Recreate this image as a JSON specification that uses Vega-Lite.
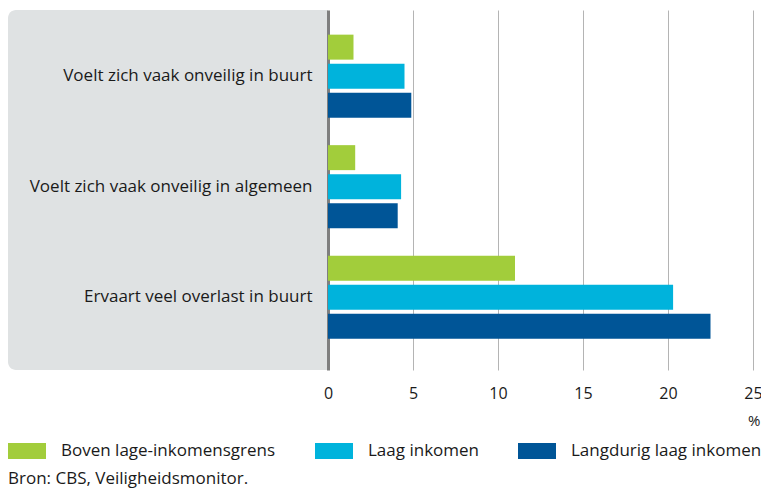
{
  "$schema": "https://vega.github.io/schema/vega-lite/v6.json",
  "padding": {"left": 8, "top": 10, "right": 10, "bottom": 6},
  "background": "#ffffff",
  "bounds": "flush",
  "config": {
    "view": {"stroke": null},
    "font": "Open Sans",
    "text": {"font": "Open Sans"},
    "axis": {"labelFont": "Open Sans", "titleFont": "Open Sans", "labelColor": "#1a1a1a", "titleColor": "#1a1a1a"},
    "legend": {"labelFont": "Open Sans"}
  },
  "datasets": {
    "bars": [
      {"categorie": "Voelt zich vaak onveilig in buurt", "groep": "Boven lage-inkomensgrens", "waarde": 1.5},
      {"categorie": "Voelt zich vaak onveilig in buurt", "groep": "Laag inkomen", "waarde": 4.5},
      {"categorie": "Voelt zich vaak onveilig in buurt", "groep": "Langdurig laag inkomen", "waarde": 4.9},
      {"categorie": "Voelt zich vaak onveilig in algemeen", "groep": "Boven lage-inkomensgrens", "waarde": 1.6},
      {"categorie": "Voelt zich vaak onveilig in algemeen", "groep": "Laag inkomen", "waarde": 4.3},
      {"categorie": "Voelt zich vaak onveilig in algemeen", "groep": "Langdurig laag inkomen", "waarde": 4.1},
      {"categorie": "Ervaart veel overlast in buurt", "groep": "Boven lage-inkomensgrens", "waarde": 11.0},
      {"categorie": "Ervaart veel overlast in buurt", "groep": "Laag inkomen", "waarde": 20.3},
      {"categorie": "Ervaart veel overlast in buurt", "groep": "Langdurig laag inkomen", "waarde": 22.5}
    ]
  },
  "data": {"name": "bars"},
  "title": {
    "text": "Bron: CBS, Veiligheidsmonitor.",
    "orient": "bottom",
    "anchor": "start",
    "frame": "group",
    "font": "Open Sans",
    "fontSize": 17,
    "fontWeight": "normal",
    "color": "#1a1a1a",
    "offset": 12
  },
  "spacing": 0,
  "hconcat": [
    {
      "width": 320,
      "height": 360,
      "layer": [
        {
          "transform": [{"aggregate": [{"op": "count", "as": "n"}]}],
          "mark": {"type": "rect", "fill": "#dfe2e3", "cornerRadiusTopLeft": 8, "cornerRadiusBottomLeft": 8},
          "encoding": {}
        },
        {
          "mark": {"type": "bar", "opacity": 0},
          "encoding": {
            "y": {
              "field": "categorie",
              "type": "nominal",
              "sort": ["Voelt zich vaak onveilig in buurt", "Voelt zich vaak onveilig in algemeen", "Ervaart veel overlast in buurt"],
              "scale": {"type": "band", "paddingInner": 0.249, "paddingOuter": 0.2535, "align": 0.44},
              "axis": {
                "orient": "right",
                "zindex": 1,
                "title": null,
                "domain": false,
                "ticks": false,
                "tickSize": 0,
                "grid": false,
                "labelAlign": "right",
                "labelBaseline": "middle",
                "labelPadding": -16,
                "labelFontSize": 17,
                "labelLimit": 320,
                "labelColor": "#1a1a1a"
              }
            }
          }
        }
      ]
    },
    {
      "width": 425,
      "height": 360,
      "mark": {"type": "bar"},
      "encoding": {
        "y": {
          "field": "categorie",
          "type": "nominal",
          "sort": ["Voelt zich vaak onveilig in buurt", "Voelt zich vaak onveilig in algemeen", "Ervaart veel overlast in buurt"],
          "scale": {"type": "band", "paddingInner": 0.249, "paddingOuter": 0.2535, "align": 0.44},
          "axis": null
        },
        "yOffset": {
          "field": "groep",
          "type": "nominal",
          "sort": ["Boven lage-inkomensgrens", "Laag inkomen", "Langdurig laag inkomen"],
          "scale": {"paddingInner": 0.138, "paddingOuter": 0}
        },
        "x": {
          "field": "waarde",
          "type": "quantitative",
          "scale": {"domain": [0, 25], "nice": false},
          "axis": {
            "values": [0, 5, 10, 15, 20, 25],
            "title": "%",
            "titleX": 432,
            "titleAlign": "right",
            "titleFontWeight": "normal",
            "titleFontSize": 15,
            "titlePadding": 12,
            "domain": false,
            "ticks": false,
            "grid": true,
            "gridColor": {"condition": {"test": "datum.value === 0", "value": "#7f7f7f"}, "value": "#b4b4b4"},
            "gridWidth": {"condition": {"test": "datum.value === 0", "value": 3}, "value": 1},
            "gridOpacity": 1,
            "labelFlush": false,
            "labelFontSize": 16,
            "labelPadding": 15,
            "labelColor": "#1a1a1a"
          }
        },
        "color": {
          "field": "groep",
          "type": "nominal",
          "sort": ["Boven lage-inkomensgrens", "Laag inkomen", "Langdurig laag inkomen"],
          "scale": {
            "domain": ["Boven lage-inkomensgrens", "Laag inkomen", "Langdurig laag inkomen"],
            "range": ["#a2cd3b", "#00b3dc", "#005597"]
          },
          "legend": {
            "orient": "none",
            "legendX": 0,
            "legendY": 422,
            "direction": "horizontal",
            "title": null,
            "symbolType": "M-1,-0.42H1V0.42H-1Z",
            "symbolSize": 1444,
            "symbolStrokeWidth": 0,
            "symbolOpacity": 1,
            "labelOffset": 15,
            "columnPadding": 39,
            "labelFontSize": 17,
            "labelColor": "#1a1a1a",
            "labelLimit": 400
          }
        }
      }
    }
  ],
  "resolve": {"scale": {"y": "independent"}, "axis": {"y": "independent"}}
}
